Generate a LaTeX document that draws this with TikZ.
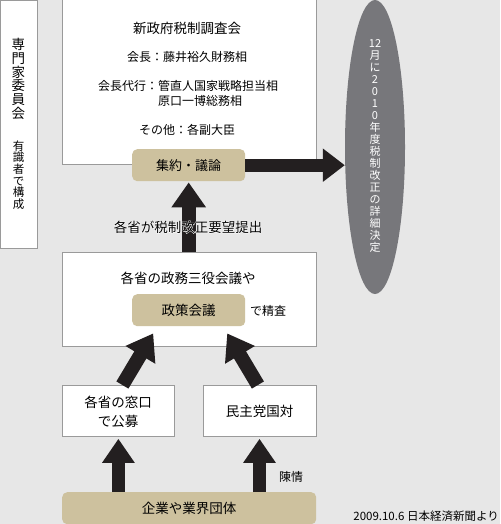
\documentclass[tikz,border=0pt]{standalone}
\usepackage{fontspec}
\setmainfont{Noto Sans CJK JP}
\newfontfamily\halofont[FakeBold=6]{Noto Sans CJK JP}
\usetikzlibrary{arrows.meta,shapes.geometric,calc}
\definecolor{bgc}{HTML}{E7E7E7}
\definecolor{tan}{HTML}{CDC19E}
\definecolor{ellc}{HTML}{77777B}
\definecolor{arrc}{HTML}{231F20}
\definecolor{bordc}{HTML}{9A9A9A}
\newcommand{\fs}[2]{\fontsize{#1}{#2}\selectfont}
\begin{document}
\begin{tikzpicture}[x=1pt,y=-1pt,
  box/.style={draw=bordc,line width=0.8pt,fill=white,inner sep=0pt,anchor=north west},
  tanbox/.style={fill=tan,rounded corners=5pt,inner sep=0pt,anchor=north west},
  bigarrow/.style={draw=arrc,line width=14pt,-{Triangle[width=33pt,length=25pt]}},
  txt/.style={inner sep=0pt,text=black}]
\fill[bgc] (0,0) rectangle (500,524);
\useasboundingbox (0,0) rectangle (500,524);
% expert committee box
\node[box,minimum width=37pt,minimum height=248pt] (expert) at (0,0) {};
\node[txt,align=center,font=\fs{13.5}{13.7}] (expt1) at (18.5,79) {専\\門\\家\\委\\員\\会};
\node[txt,align=center,font=\fs{11.5}{11.7}] (expt2) at (18.5,175) {有\\識\\者\\で\\構\\成};
% tax commission box
\node[box,minimum width=254pt,minimum height=165pt] (tax) at (62,-1) {};
\node[txt,font=\fs{13.5}{16}] (title) at (187,28) {新政府税制調査会};
\node[txt,font=\fs{12}{14}] (chair) at (187,57) {会長：藤井裕久財務相};
\node[txt,font=\fs{12}{14},anchor=west] (vice1) at (98,86) {会長代行：管直人国家戦略担当相};
\node[txt,font=\fs{12}{14},anchor=west] (vice2) at (158,101) {原口一博総務相};
\node[txt,font=\fs{12}{14}] (other) at (187,130) {その他：各副大臣};
\node[tanbox,minimum width=113pt,minimum height=32pt,font=\fs{13}{15}] (shuyaku) at (132,149) {集約・議論};
% ellipse
\node[ellipse,fill=ellc,minimum width=60pt,minimum height=294pt,inner sep=0pt] (ell) at (375,147) {};
\node[txt,text=white,align=center,font=\fs{11}{12.05}] (elltext) at (375,146) {12\\月\\に\\2\\0\\1\\0\\年\\度\\税\\制\\改\\正\\の\\詳\\細\\決\\定};
% middle box
\node[box,minimum width=254pt,minimum height=94pt] (mid) at (62,252) {};
\node[txt,font=\fs{13.5}{16}] (midt) at (188,278) {各省の政務三役会議や};
\node[tanbox,minimum width=113pt,minimum height=32pt,font=\fs{13.5}{16}] (seisaku) at (132,294) {政策会議};
\node[txt,font=\fs{12}{14},anchor=west] (seisa) at (250,311) {で精査};
% lower boxes
\node[box,minimum width=112pt,minimum height=51pt] (lowL) at (62,385) {};
\node[txt,align=center,font=\fs{13.5}{19}] (lowLt) at (118,412) {各省の窓口\\で公募};
\node[box,minimum width=113pt,minimum height=51pt] (lowR) at (203,385) {};
\node[txt,font=\fs{13.5}{16}] (lowRt) at (259.5,411) {民主党国対};
% bottom
\node[tanbox,minimum width=254pt,minimum height=32pt] (bottom) at (62,492) {};
\node[txt,font=\fs{13.5}{16}] (bottomt) at (189,508) {企業や業界団体};
\node[txt,font=\fs{12}{14}] (chinjo) at (291,477) {陳情};
\node[txt,font=\fs{11.5}{14},anchor=east] (src) at (499,516) {2009.10.6 日本経済新聞より};
% arrows
\draw[draw=arrc,line width=13pt,-{Triangle[width=32pt,length=22pt]}] (shuyaku.east) -- (shuyaku.east -| ell.west);
\draw[bigarrow] (mid.north -| shuyaku.south) -- ([yshift=-1pt]shuyaku.south);
\draw[bigarrow] ([xshift=4pt]lowL.north) -- ([xshift=-35.5pt,yshift=-7pt]seisaku.south);
\draw[bigarrow] ([xshift=-2pt]lowR.north) -- ([xshift=38.5pt,yshift=-7pt]seisaku.south);
\draw[draw=arrc,line width=13pt,-{Triangle[width=31pt,length=24pt]}] (bottom.north -| lowL.north) -- ([yshift=-2pt]lowL.south);
\draw[draw=arrc,line width=13pt,-{Triangle[width=31pt,length=24pt]}] (bottom.north -| lowRt) -- ([yshift=-2pt]lowR.south -| lowRt);
% label with white halo
\coordinate (labpos) at (188,227);
\node[txt,font=\fs{13.5}{16}] (lab) at (labpos) {\rlap{\color{white}\halofont 各省が税制改正要望提出}各省が税制改正要望提出};
\end{tikzpicture}
\end{document}
